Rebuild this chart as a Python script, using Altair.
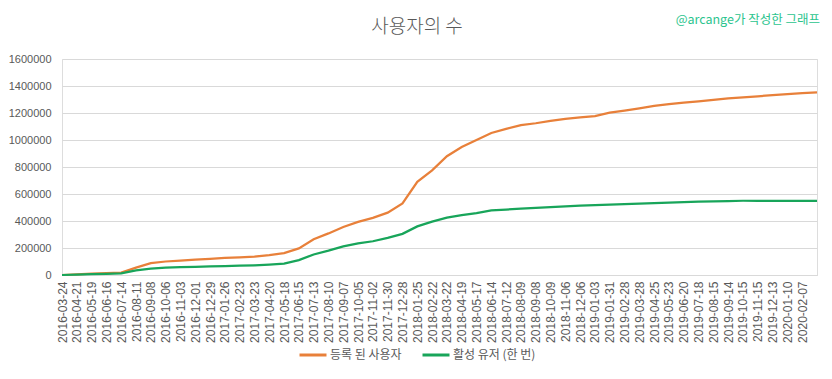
import altair as alt
import pandas as pd

title_text = "사용자의 수"
credit_text = "@arcange가 작성한 그래프"
series_names = ["등록 된 사용자", "활성 유저 (한 번)"]
series_colors = ["#E8803A", "#18A55A"]

label_dates = [
    "2016-03-24", "2016-04-21", "2016-05-19", "2016-06-16", "2016-07-14", "2016-08-11",
    "2016-09-08", "2016-10-06", "2016-11-03", "2016-12-01", "2016-12-29", "2017-01-26",
    "2017-02-23", "2017-03-23", "2017-04-20", "2017-05-18", "2017-06-15", "2017-07-13",
    "2017-08-10", "2017-09-07", "2017-10-05", "2017-11-02", "2017-11-30", "2017-12-28",
    "2018-01-25", "2018-02-22", "2018-03-22", "2018-04-19", "2018-05-17", "2018-06-14",
    "2018-07-12", "2018-08-09", "2018-09-08", "2018-10-09", "2018-11-06", "2018-12-06",
    "2019-01-03", "2019-01-31", "2019-02-28", "2019-03-28", "2019-04-25", "2019-05-23",
    "2019-06-20", "2019-07-18", "2019-08-15", "2019-09-14", "2019-10-15", "2019-11-15",
    "2019-12-13", "2020-01-10", "2020-02-07",
]
last_date = "2020-03-06"
dates = label_dates + [last_date]

registered = [
    0, 4000, 10000, 13000, 18000, 55000, 88000, 100000, 107000, 113000,
    120000, 126000, 131000, 137000, 148000, 162000, 197000, 265000, 308000, 356000,
    393000, 423000, 462000, 530000, 690000, 775000, 880000, 948000, 1000000, 1052000,
    1082000, 1110000, 1124000, 1141000, 1157000, 1168000, 1177000, 1202000, 1218000, 1235000,
    1252000, 1265000, 1277000, 1287000, 1298000, 1308000, 1316000, 1324000, 1332000, 1340000,
    1347000, 1353000,
]
active = [
    0, 3000, 7000, 9000, 12000, 35000, 47000, 55000, 58000, 61000,
    63000, 66000, 69000, 72000, 77000, 84000, 110000, 152000, 180000, 212000,
    234000, 250000, 275000, 305000, 360000, 395000, 425000, 443000, 458000, 478000,
    485000, 492000, 498000, 503000, 509000, 514000, 518000, 522000, 525000, 528000,
    533000, 537000, 540000, 543000, 546000, 548000, 550000, 550000, 550000, 550000,
    550000, 550000,
]
y_ticks = [0, 200000, 400000, 600000, 800000, 1000000, 1200000, 1400000, 1600000]

rows = []
for name, vals in zip(series_names, [registered, active]):
    for d, v in zip(dates, vals):
        rows.append({"date": d, "value": v, "series": name})
df = pd.DataFrame(rows)

KR = "Noto Sans CJK KR"
NUM = "Liberation Sans"

lines = alt.Chart(df).mark_line(strokeWidth=2.25).encode(
    x=alt.X(
        "date:O",
        sort=dates,
        scale=alt.Scale(type="point", padding=0),
        axis=alt.Axis(
            title=None, values=label_dates, labelAngle=-90, labelFont=NUM,
            labelFontSize=12, labelColor="#595959", ticks=False,
            domainColor="#D9D9D9", labelPadding=6, grid=False,
        ),
    ),
    y=alt.Y(
        "value:Q",
        scale=alt.Scale(domain=[0, 1600000]),
        axis=alt.Axis(
            title=None, values=y_ticks, format="d", labelFont=NUM, labelFontSize=11,
            labelColor="#595959", ticks=False, domain=False, gridColor="#D9D9D9",
            labelPadding=11,
        ),
    ),
    color=alt.Color(
        "series:N",
        scale=alt.Scale(domain=series_names, range=series_colors),
        legend=alt.Legend(
            title=None, orient="none", direction="horizontal", legendX=236, legendY=281,
            labelFont=KR, labelFontSize=12, labelColor="#595959", symbolType="stroke",
            symbolSize=729, symbolStrokeWidth=3, columnPadding=14, labelOffset=2,
        ),
    ),
)

title = alt.Chart(pd.DataFrame({"t": [title_text]})).mark_text(
    align="center", baseline="middle", font=KR, fontSize=19, fontWeight=300, color="#595959"
).encode(text="t:N", x=alt.value(355), y=alt.value(-32))

credit = alt.Chart(pd.DataFrame({"t": [credit_text]})).mark_text(
    align="right", baseline="middle", font=KR, fontSize=12.5, color="#2BC48E"
).encode(text="t:N", x=alt.value(758), y=alt.value(-39))

chart = alt.layer(lines, title, credit).properties(
    width=755,
    height=216,
    autosize=alt.AutoSizeParams(type="none"),
    padding={"left": 54, "top": 51, "right": 7, "bottom": 94},
).configure_view(stroke=None).configure(background="white")

chart.save("out.html", embed_options={"renderer": "svg", "actions": False})
